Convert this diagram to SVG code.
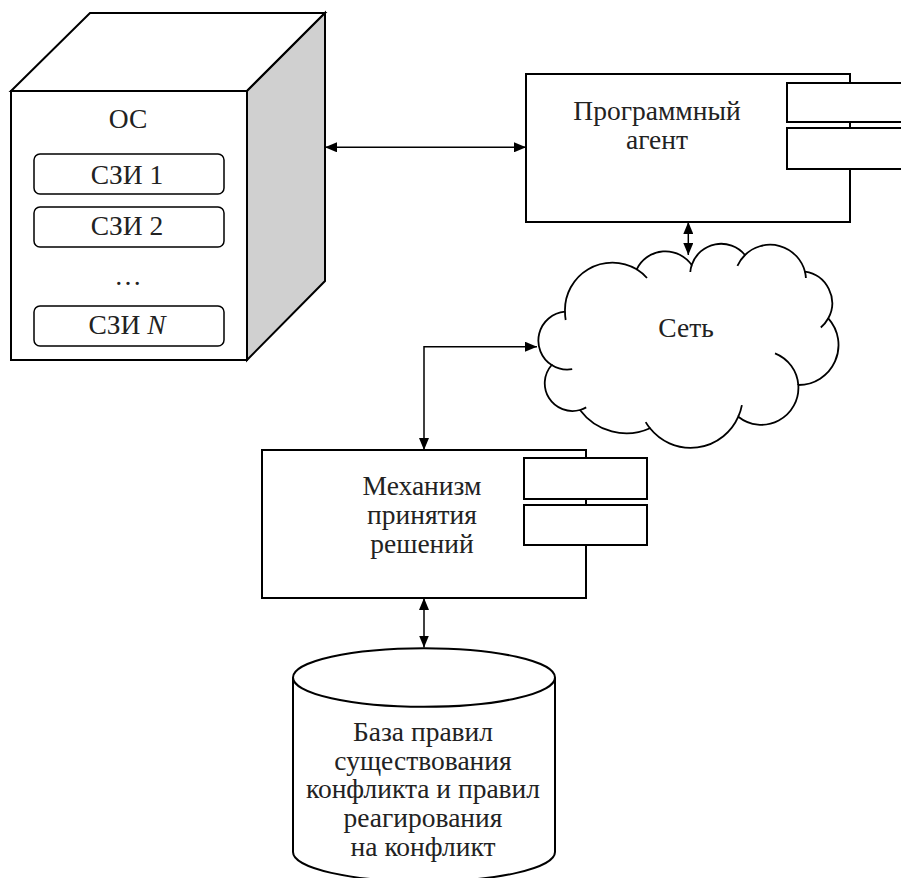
<svg xmlns="http://www.w3.org/2000/svg" width="901" height="878" viewBox="0 0 901 878">
<style>
.t{font-family:"Liberation Serif","Times New Roman",serif;font-size:27.5px;fill:#222;text-anchor:middle}
.b{fill:#fff;stroke:#000;stroke-width:2}
.s{fill:#fff;stroke:#000;stroke-width:1.5}
.c{fill:none;stroke:#000;stroke-width:1.5;marker-start:url(#ah);marker-end:url(#ah)}
.k{fill:none;stroke:#000;stroke-width:1.8}
</style>
<defs>
<marker id="ah" viewBox="0 0 12 10" refX="12" refY="5" markerWidth="12" markerHeight="10" markerUnits="userSpaceOnUse" orient="auto-start-reverse">
<path d="M0,0 L12,5 L0,10 z" fill="#000"/>
</marker>
</defs>
<rect width="901" height="878" fill="#fff"/>

<g id="os">
<polygon points="11,91 90,13 325,13 247,91" class="b"/>
<polygon points="247,91 325,13 325,281 247,360" fill="#d0d0d0" stroke="#000" stroke-width="2"/>
<rect x="11" y="91" width="236" height="269" class="b"/>
<text class="t" x="128" y="128" font-size="25">ОС</text>
<rect x="34" y="154" width="190" height="40" rx="6" class="s"/>
<text class="t" x="127" y="184" font-size="27">СЗИ 1</text>
<rect x="34" y="207" width="190" height="40" rx="6" class="s"/>
<text class="t" x="127" y="235" font-size="27">СЗИ 2</text>
<text class="t" x="128" y="285" font-size="25">…</text>
<rect x="34" y="306" width="190" height="40" rx="6" class="s"/>
<text class="t" x="127" y="334" font-size="27">СЗИ <tspan font-style="italic">N</tspan></text>
</g>

<g id="agent">
<rect x="526" y="74" width="324" height="148" class="b"/>
<rect x="787" y="83" width="116" height="39" class="b"/>
<rect x="787" y="128" width="116" height="41" class="b"/>
<text class="t" x="657" y="120">Программный</text>
<text class="t" x="657" y="149">агент</text>
</g>

<g id="network">
<path class="k" d="M551.7 365 A29 29 0 0 1 565 311.7 A47.4 47.4 0 0 1 636.7 269.3 A32 32 0 0 1 691.7 265 A31 31 0 0 1 745 255 A36 36 0 0 1 805 271.7 A31.8 31.8 0 0 1 828.3 318.3 A40 40 0 0 1 798.3 385 A37 37 0 0 1 738.3 416.7 A52 52 0 0 1 650 428.3 A57.8 57.8 0 0 1 580 410 A27.7 27.7 0 0 1 551.7 365 Z" style="fill:#fff"/>
<path class="k" d="M551.7 365 A29 29 0 0 0 572.2 369.2 M565 311.7 A47.4 47.4 0 0 0 565.7 320 M636.7 269.3 A47.4 47.4 0 0 1 647 278 M691.7 265 A31 31 0 0 0 690.3 272 M745 255 A36 36 0 0 0 737.4 265.9 M805 271.7 A36 36 0 0 1 805.9 278 M828.3 318.3 A31.8 31.8 0 0 1 820.8 327.5 M775 353.3 A37 37 0 0 1 798.3 385 M738.3 416.7 A52 52 0 0 0 741.9 405.1 M650 428.3 A52 52 0 0 1 645.7 422.1 M580 410 A27.7 27.7 0 0 0 586.2 407.4"/>
<text class="t" x="686" y="337">Сеть</text>
</g>

<g id="decision">
<rect x="262" y="450" width="324" height="148" class="b"/>
<rect x="524" y="458" width="123" height="41" class="b"/>
<rect x="524" y="505" width="123" height="40" class="b"/>
<text class="t" x="422" y="495">Механизм</text>
<text class="t" x="422" y="524">принятия</text>
<text class="t" x="422" y="553">решений</text>
</g>

<g id="database">
<path class="b" d="M293 677.5 V852 A131 29.5 0 0 0 555 852 V677.5"/>
<ellipse cx="424" cy="677.5" rx="131" ry="29.3" class="b"/>
<text class="t" x="423" y="741">База правил</text>
<text class="t" x="423" y="770">существования</text>
<text class="t" x="423" y="798">конфликта и правил</text>
<text class="t" x="423" y="827">реагирования</text>
<text class="t" x="423" y="856">на конфликт</text>
</g>

<g id="connectors">
<path class="c" d="M325 147.3 H526"/>
<path class="c" d="M688.3 222 V255"/>
<path class="c" d="M537 346.7 H424 V450"/>
<path class="c" d="M424 598 V647.5"/>
</g>
</svg>
